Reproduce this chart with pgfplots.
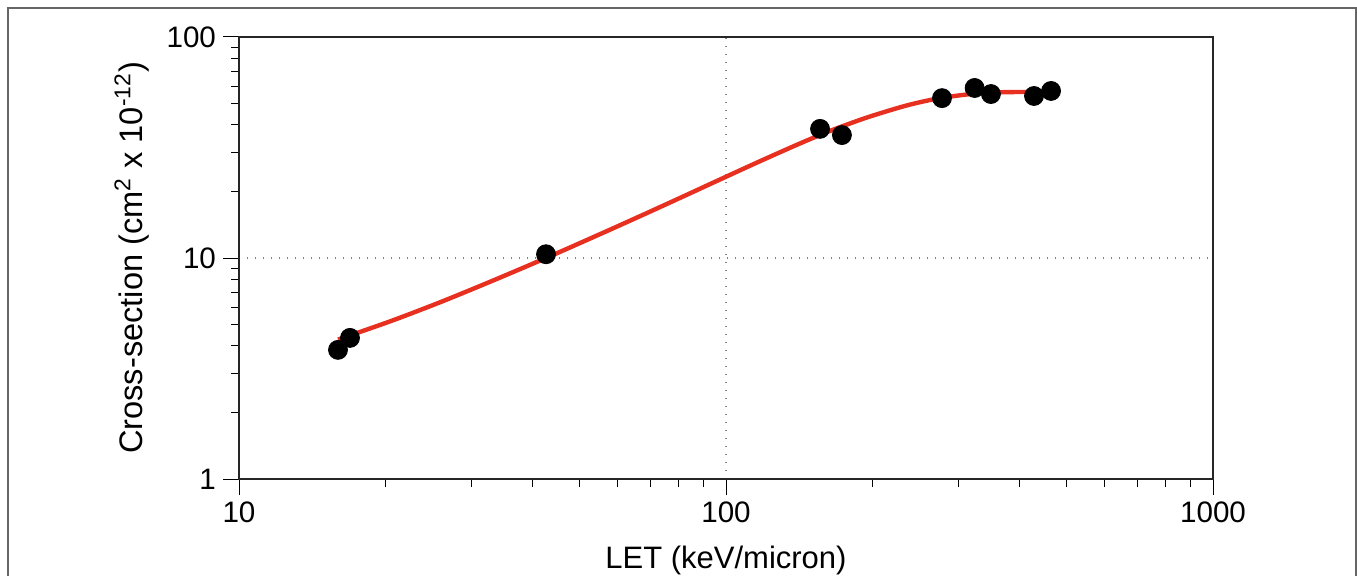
\documentclass[border=0pt]{standalone}
\usepackage{pgfplots}
\pgfplotsset{compat=1.18}
\usepackage{fontspec}
\setmainfont{Liberation Sans}
\definecolor{fitred}{RGB}{232,48,32}
\begin{document}
\begin{tikzpicture}
\useasboundingbox (0,0) rectangle (678.5pt,287.5pt);
\draw[black!60, line width=0.6pt] (4pt,-20pt) rectangle (678pt,283.5pt);
\begin{axis}[
 at={(119.5pt,48pt)}, anchor=south west,
 scale only axis, width=487pt, height=221pt,
 xmode=log, ymode=log,
 xmin=10, xmax=1000, ymin=1, ymax=100,
 xtick={10,100,1000}, xticklabels={10,100,1000},
 ytick={1,10,100}, yticklabels={1,10,100},
 tick align=outside, tick pos=left,
 major tick length=8pt, minor tick length=4pt,
 every tick/.style={black, line width=0.5pt},
 axis line style={black!85, line width=0.6pt},
 grid=major, grid style={gray, line width=0.6pt, dash pattern=on 0.6pt off 3.4pt},
 ticklabel style={font=\fontsize{14.8}{16}\selectfont},
 xlabel={LET (keV/micron)},
 ylabel={Cross-section (cm\textsuperscript{2} x 10\textsuperscript{-12})},
 xlabel style={font=\fontsize{15.5}{18}\selectfont, at={(axis description cs:0.5,-0.2036)}, anchor=base},
 ylabel style={font=\fontsize{16.3}{18}\selectfont, at={(axis description cs:-0.0986,0.5)}, anchor=base},
 clip=false,
]
\addplot[only marks, mark=*, mark size=4.75pt, black] coordinates {
 (15.97,3.84) (16.9,4.35) (42.7,10.4) (156,38.4) (173,36.0)
 (277.7,52.9) (324,58.8) (350,55.2) (429,54.1) (465,57.0)
};
\addplot[fitred, line width=2.2pt, smooth, tension=0.5] coordinates {
 (15.97,4.278) (20.42,5.166) (25.86,6.303) (32.76,7.804) (42.70,10.0)
 (55.11,12.82) (66.59,15.46) (80.45,18.70) (100.47,23.43) (117.45,27.42)
 (135.33,31.52) (148.74,34.48) (165.09,37.90) (193.90,43.09) (227.71,48.07)
 (250.25,50.70) (279.05,53.18) (324.63,55.45) (365.24,56.21) (411.13,56.40)
 (465.0,56.40)
};
\end{axis}
\end{tikzpicture}
\end{document}
